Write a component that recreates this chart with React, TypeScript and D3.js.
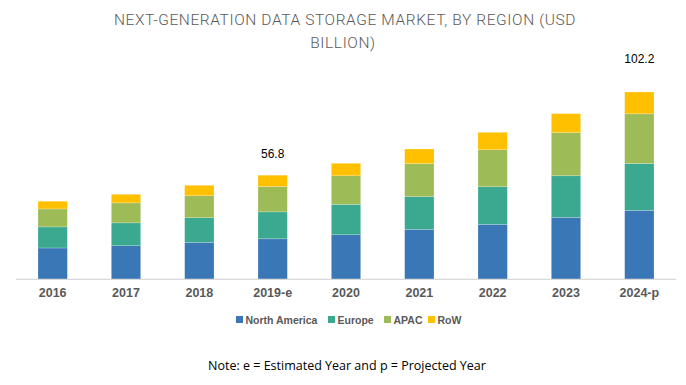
import React, { useEffect, useRef } from "react";
import * as d3 from "d3";

const years = ["2016", "2017", "2018", "2019-e", "2020", "2021", "2022", "2023", "2024-p"];
const regions = ["North America", "Europe", "APAC", "RoW"];
const northAmerica = [17.1, 18.3, 20.2, 22.1, 24.3, 27.3, 30.0, 33.8, 37.6];
const europe = [11.5, 12.5, 13.4, 14.7, 16.6, 17.8, 20.5, 22.7, 25.6];
const apac = [9.8, 10.9, 12.0, 13.8, 15.6, 18.0, 20.2, 23.5, 27.1];
const row = [4.2, 4.7, 5.7, 6.2, 6.8, 8.0, 9.5, 10.4, 11.9];
const colors = ["#3a77b6", "#3aa98f", "#9dbb57", "#ffc000"];
const totalLabels = [
  { year: "2019-e", text: "56.8" },
  { year: "2024-p", text: "102.2" },
];

export default function App() {
  const ref = useRef<SVGSVGElement>(null);

  useEffect(() => {
    const svg = d3.select(ref.current);
    svg.selectAll("*").remove();

    const table = years.map((y, i) => ({
      year: y,
      "North America": northAmerica[i],
      Europe: europe[i],
      APAC: apac[i],
      RoW: row[i],
    }));

    const x = d3.scaleBand().domain(years).range([16, 676]).paddingInner(0.6).paddingOuter(0.3);
    const y = d3.scaleLinear().domain([0, 102.2]).range([279.3, 92]);
    const color = d3.scaleOrdinal<string>().domain(regions).range(colors);

    const stacked = d3.stack<any>().keys(regions)(table);

    // title
    const title = svg.append("g").attr("font-family", "Roboto, sans-serif").attr("font-weight", 300)
      .attr("font-size", 15.5).attr("fill", "#595959").attr("text-anchor", "middle")
      .attr("letter-spacing", 0.6);
    title.append("text").attr("x", 345).attr("y", 25).text("NEXT-GENERATION DATA STORAGE MARKET, BY REGION (USD");
    title.append("text").attr("x", 343).attr("y", 48).text("BILLION)");

    svg.append("g")
      .selectAll("g")
      .data(stacked)
      .join("g")
      .attr("fill", (d) => color(d.key))
      .selectAll("rect")
      .data((d) => d)
      .join("rect")
      .attr("x", (d: any) => x(d.data.year)!)
      .attr("width", x.bandwidth())
      .attr("y", (d) => y(d[1]))
      .attr("height", (d) => y(d[0]) - y(d[1]))
      .attr("stroke", "#ffffff")
      .attr("stroke-opacity", 0.35)
      .attr("stroke-width", 0.6);

    // axis
    const axis = svg.append("g").attr("transform", "translate(0,279.3)")
      .call(d3.axisBottom(x).tickSize(0).tickPadding(9));
    axis.select(".domain").attr("stroke", "#d9d9d9").attr("stroke-width", 1.2)
      .attr("d", "M16,0H676");
    axis.selectAll("text").attr("font-family", "Arial, 'Liberation Sans', sans-serif")
      .attr("font-weight", "bold").attr("font-size", 12.5).attr("fill", "#595959");

    // total labels
    const totals = years.map((_, i) => northAmerica[i] + europe[i] + apac[i] + row[i]);
    const offsets = [17, 29];
    svg.append("g").selectAll("text").data(totalLabels).join("text")
      .attr("x", (d) => x(d.year)! + x.bandwidth() / 2)
      .attr("y", (d, i) => y(totals[years.indexOf(d.year)]) - offsets[i])
      .attr("text-anchor", "middle")
      .attr("font-family", "Arial, 'Liberation Sans', sans-serif")
      .attr("font-size", 12)
      .attr("fill", "#000")
      .text((d) => d.text);

    // legend
    const legendX = [236, 328, 384, 428];
    const legend = svg.append("g").selectAll("g").data(regions).join("g")
      .attr("transform", (d, i) => `translate(${legendX[i]},320)`);
    legend.append("rect").attr("y", -4).attr("width", 7).attr("height", 7).attr("fill", (d) => color(d));
    legend.append("text").attr("x", 9.5).attr("y", 3.5)
      .attr("font-family", "Arial, 'Liberation Sans', sans-serif")
      .attr("font-weight", "bold").attr("font-size", 10.5).attr("fill", "#595959")
      .text((d) => d);

    svg.append("text").attr("x", 347).attr("y", 370).attr("text-anchor", "middle")
      .attr("font-family", "'Open Sans', sans-serif").attr("font-size", 12.5).attr("fill", "#000")
      .text("Note: e = Estimated Year and p = Projected Year");
  }, []);

  return (
    <svg
      ref={ref}
      width={686}
      height={385}
      style={{ position: "absolute", left: 0, top: 0, background: "#fff" }}
    />
  );
}
